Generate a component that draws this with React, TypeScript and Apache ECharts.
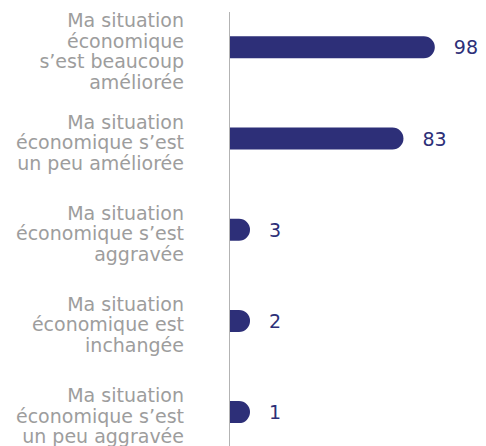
import React, { useEffect, useRef } from "react";
import * as echarts from "echarts";

const categories = [
  "Ma situation\néconomique\ns’est beaucoup\naméliorée",
  "Ma situation\néconomique s’est\nun peu améliorée",
  "Ma situation\néconomique s’est\naggravée",
  "Ma situation\néconomique est\ninchangée",
  "Ma situation\néconomique s’est\nun peu aggravée",
];
const values = [98, 83, 3, 2, 1];

const BAR = "#2d2f78";
const GRAY = "#9d9d9d";
const FONT = "DejaVu Sans";

export default function App() {
  const ref = useRef<HTMLDivElement>(null);
  useEffect(() => {
    if (!ref.current) return;
    const chart = echarts.init(ref.current, null, { renderer: "svg" });
    chart.setOption({
      animation: false,
      grid: [
        { left: 230, top: 1.7, height: 456, width: 250.8, containLabel: false },
        { left: 230, top: 5.2, height: 456, width: 250.8, containLabel: false },
      ],
      xAxis: [
        { type: "value", min: 0, max: 120, show: false, gridIndex: 0 },
        { type: "value", min: 0, max: 120, show: false, gridIndex: 1 },
      ],
      yAxis: [
        {
          type: "category",
          gridIndex: 0,
          inverse: true,
          data: categories,
          axisLine: { show: false },
          axisTick: { show: false },
          splitLine: { show: false },
          axisLabel: { show: false },
        },
        {
          type: "category",
          gridIndex: 1,
          inverse: true,
          data: categories,
          axisLine: { show: false },
          axisTick: { show: false },
          splitLine: { show: false },
          axisLabel: {
            interval: 0,
            margin: 46,
            color: GRAY,
            fontFamily: FONT,
            fontSize: 19,
            lineHeight: 20.5,
            align: "right",
          },
        },
      ],
      graphic: [
        {
          type: "line",
          shape: { x1: 229.5, y1: 12, x2: 229.5, y2: 470 },
          style: { stroke: "#b3b3b3", lineWidth: 1 },
          z: 10,
        },
      ],
      series: [
        {
          type: "bar",
          xAxisIndex: 0,
          yAxisIndex: 0,
          data: values,
          barWidth: 22,
          barMinHeight: 20,
          itemStyle: { color: BAR, borderRadius: [0, 11, 11, 0] },
          label: {
            show: true,
            position: "right",
            distance: 19,
            color: BAR,
            fontFamily: FONT,
            fontSize: 19,
          },
        },
      ],
    });
    return () => chart.dispose();
  }, []);
  return (
    <div style={{ position: "absolute", left: 0, top: 0, width: 486, height: 446, overflow: "hidden" }}>
      <div ref={ref} style={{ width: 486, height: 470 }} />
    </div>
  );
}
